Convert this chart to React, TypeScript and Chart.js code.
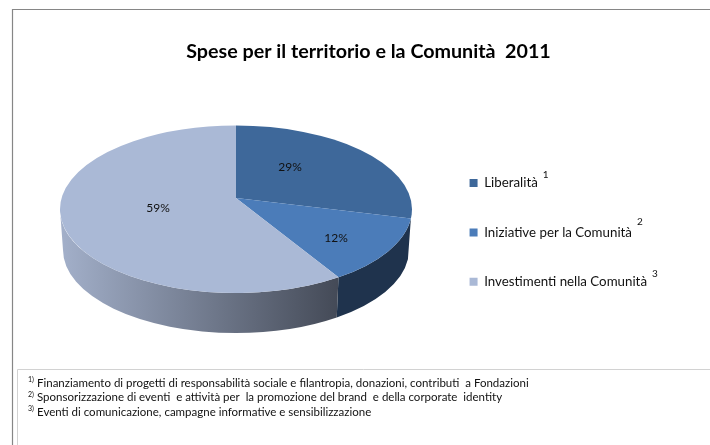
import React, { useEffect, useRef } from "react";
import { Chart, registerables } from "chart.js";

Chart.register(...registerables);

const categories = ["Liberalità", "Iniziative per la Comunità", "Investimenti nella Comunità"];
const shares = [28.9, 12.4, 58.7];
const legendMarks = ["1", "2", "3"];
const titleText = "Spese per il territorio e la Comunità  2011";
const footnoteMarks = ["1)", "2)", "3)"];
const footnotes = [
  "Finanziamento di progetti di responsabilità sociale e filantropia, donazioni, contributi  a Fondazioni",
  "Sponsorizzazione di eventi  e attività per  la promozione del brand  e della corporate  identity",
  "Eventi di comunicazione, campagne informative e sensibilizzazione",
];
const sliceColors = ["#3E689A", "#4B7CB9", "#AAB9D6"];

const FONT = "Lato, 'Open Sans', sans-serif";
const CX = 236;
const TOP = { cy: 209.25, rx: 176, ry: 83.75 };
const BOTTOM = { cy: 250, rx: 173, ry: 83 };
const APEX_Y = 198;
const PA = 55.6;
const PC = -0.1343;
const PK = 174.5;
const LABEL_POS = [[290, 167], [336, 238], [158, 208]];
const LEGEND_FONT = 13.3;

function paramOf(theta: number) {
  const u = Math.cos(theta);
  const v = Math.sin(theta);
  const w = 1 + PC * v;
  const x = (PK * u) / w;
  const y = (PA * v + APEX_Y) / w;
  return Math.atan2((y - TOP.cy) / TOP.ry, x / TOP.rx);
}

function span(el: any) {
  const t1 = paramOf(el.startAngle);
  let t2 = paramOf(el.endAngle);
  if (t2 <= t1) t2 += Math.PI * 2;
  return [t1, t2];
}

const pie3d = {
  id: "pie3d",
  beforeDatasetDraw(chart: any) {
    const ctx = chart.ctx;
    const arcs = chart.getDatasetMeta(0).data;
    ctx.save();
    // side wall
    arcs.forEach((el: any, i: number) => {
      const [t1, t2] = span(el);
      const ranges = [[t1, t2], [t1 - Math.PI * 2, t2 - Math.PI * 2]];
      ranges.forEach(([a0, b0]) => {
        const a = Math.max(a0, 0);
        const b = Math.min(b0, Math.PI);
        if (b <= a) return;
        ctx.beginPath();
        ctx.ellipse(CX, TOP.cy, TOP.rx, TOP.ry, 0, a, b);
        ctx.ellipse(CX, BOTTOM.cy, BOTTOM.rx, BOTTOM.ry, 0, b, a, true);
        ctx.closePath();
        if (i === 2) {
          const g = ctx.createLinearGradient(60, 0, 338, 0);
          g.addColorStop(0, "#A3B0CA");
          g.addColorStop(1, "#444A57");
          ctx.fillStyle = g;
        } else {
          ctx.fillStyle = "#1F334D";
        }
        if (i !== 0) ctx.fill();
      });
    });
    // top face
    arcs.forEach((el: any, i: number) => {
      const [t1, t2] = span(el);
      ctx.beginPath();
      ctx.moveTo(CX, APEX_Y);
      ctx.ellipse(CX, TOP.cy, TOP.rx, TOP.ry, 0, t1, t2);
      ctx.closePath();
      ctx.fillStyle = sliceColors[i];
      ctx.fill();
    });
    ctx.restore();
    return false;
  },
  afterDraw(chart: any) {
    const ctx = chart.ctx;
    ctx.save();
    // frames
    ctx.strokeStyle = "#868686";
    ctx.lineWidth = 1.2;
    ctx.beginPath();
    ctx.moveTo(12.5, 445);
    ctx.lineTo(12.5, 9.5);
    ctx.lineTo(710, 9.5);
    ctx.stroke();
    ctx.lineWidth = 1;
    ctx.strokeStyle = "#D2D2D2";
    ctx.beginPath();
    ctx.moveTo(17.5, 445);
    ctx.lineTo(17.5, 369.5);
    ctx.lineTo(710, 369.5);
    ctx.stroke();

    ctx.fillStyle = "#111";
    ctx.textAlign = "center";
    ctx.textBaseline = "middle";
    ctx.font = `12px ${FONT}`;
    shares.forEach((s, i) => ctx.fillText(`${Math.round(s)}%`, LABEL_POS[i][0], LABEL_POS[i][1]));

    // legend superscripts
    const legend = chart.legend;
    ctx.textAlign = "left";
    legend.legendItems.forEach((item: any, i: number) => {
      const hb = legend.legendHitBoxes[i];
      ctx.font = `${LEGEND_FONT}px ${FONT}`;
      const w = ctx.measureText(item.text).width;
      ctx.font = `10px ${FONT}`;
      ctx.fillText(
        legendMarks[i],
        hb.left + 8 + LEGEND_FONT / 2 + w + 5,
        hb.top + hb.height / 2 - (i === 1 ? 11 : 8)
      );
    });

    // footnotes
    footnotes.forEach((t, i) => {
      const y = 383 + i * 14.5;
      ctx.font = `7px ${FONT}`;
      ctx.fillText(footnoteMarks[i], 28, y - 3);
      ctx.font = `11.5px ${FONT}`;
      ctx.fillText(t, 37, y);
    });
    ctx.restore();
  },
};

export default function App() {
  const ref = useRef<HTMLCanvasElement>(null);
  useEffect(() => {
    document.body.style.margin = "0";
    const chart = new Chart(ref.current!, {
      type: "pie",
      data: {
        labels: categories,
        datasets: [{ data: shares, backgroundColor: sliceColors, borderWidth: 0 }],
      },
      options: {
        responsive: false,
        animation: false,
        layout: { padding: { left: 80, right: 53, top: 40, bottom: 0 } },
        plugins: {
          tooltip: { enabled: false },
          title: {
            display: true,
            text: titleText,
            color: "#000",
            font: { family: FONT, size: 19.7, weight: "bold" },
            padding: { top: 0, bottom: 76.8 },
          },
          legend: {
            position: "right",
            align: "start",
            fullSize: false,
            labels: {
              boxWidth: 8,
              boxHeight: 8,
              padding: 36,
              color: "#111",
              font: { family: FONT, size: LEGEND_FONT },
            },
          },
        },
      },
      plugins: [pie3d],
    } as any);
    return () => chart.destroy();
  }, []);
  return <canvas ref={ref} width={710} height={445} style={{ display: "block" }} />;
}
